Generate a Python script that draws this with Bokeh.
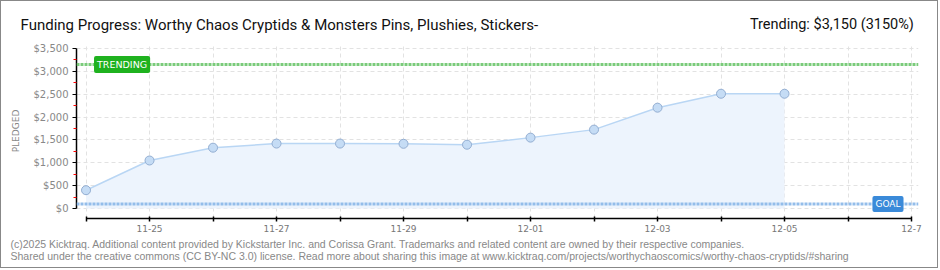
from bokeh.plotting import figure
from bokeh.models import Label, Range1d, FixedTicker, NumeralTickFormatter, Span
from bokeh.embed import file_html
from bokeh.resources import INLINE

days = ["11-24", "11-25", "11-26", "11-27", "11-28", "11-29", "11-30",
        "12-01", "12-02", "12-03", "12-04", "12-05"]
pledged = [400, 1050, 1330, 1420, 1420, 1415, 1395, 1550, 1725, 2205, 2510, 2510]
tick_days = ["11-24", "11-25", "11-26", "11-27", "11-28", "11-29", "11-30",
             "12-01", "12-02", "12-03", "12-04", "12-05", "12-06", "12-7"]
shown_tick_labels = ["11-25", "11-27", "11-29", "12-01", "12-03", "12-05", "12-7"]
y_ticks = [0, 500, 1000, 1500, 2000, 2500, 3000, 3500]
y_minor = [250, 750, 1250, 1750, 2250, 2750, 3250]
goal = 100
trending = 3150
title_text = "Funding Progress: Worthy Chaos Cryptids & Monsters Pins, Plushies, Stickers-"
trend_text = "Trending:  $3,150 (3150%)"
footer1 = "(c)2025 Kicktraq. Additional content provided by Kickstarter Inc. and Corissa Grant. Trademarks and related content are owned by their respective companies."
footer2 = "Shared under the creative commons (CC BY-NC 3.0) license. Read more about sharing this image at www.kicktraq.com/projects/worthychaoscomics/worthy-chaos-cryptids/#sharing"

x = list(range(len(days)))
tick_pos = list(range(len(tick_days)))
W = 938
EDGE = "1px solid #888888"


def blank(h, styles):
    f = figure(width=W, height=h, output_backend="svg", toolbar_location=None, title=None,
               x_range=Range1d(0, W), y_range=Range1d(0, h),
               x_axis_location=None, y_axis_location=None,
               min_border=0, min_border_left=0, min_border_right=0,
               min_border_top=0, min_border_bottom=0)
    f.grid.visible = False
    f.outline_line_color = None
    f.background_fill_color = "white"
    f.border_fill_color = "white"
    f.styles = styles
    return f


# header
head = blank(42, {"border-top": EDGE, "border-left": EDGE, "border-right": EDGE})
head.add_layout(Label(x=19, y=19, text=title_text,
                      text_font="Roboto", text_font_size="15px",
                      text_color="#111111", text_baseline="alphabetic"))
head.add_layout(Label(x=916, y=19, text=trend_text,
                      text_font="Roboto", text_font_size="14.5px",
                      text_color="#111111", text_align="right", text_baseline="alphabetic"))

# main chart
p = figure(width=W, height=196, output_backend="svg", toolbar_location=None, title=None,
           x_range=Range1d(-0.15, 13.11), y_range=Range1d(-219, 3609),
           min_border_left=75, min_border_right=21, min_border_top=1, min_border_bottom=20)
p.styles = {"border-left": EDGE, "border-right": EDGE}
p.outline_line_color = None
p.background_fill_color = "white"
p.border_fill_color = "white"

p.xgrid.ticker = FixedTicker(ticks=tick_pos)
p.ygrid.ticker = FixedTicker(ticks=y_ticks)
for g in (p.xgrid, p.ygrid):
    g.grid_line_color = "#e2e2e2"
    g.grid_line_dash = "4 3"
    g.grid_line_width = 1

p.varea(x=x, y1=[0] * len(x), y2=pledged, fill_color="#edf4fd")
p.line(x, pledged, line_color="#b9d6f4", line_width=1.5)
p.scatter(x, pledged, size=9, fill_color="#c5dcf5", line_color="#93aed2", line_width=1)

p.add_layout(Span(location=trending, dimension="width", line_color="#7acb7a",
                  line_dash="3 1", line_width=3))
p.add_layout(Span(location=goal, dimension="width", line_color="#93bdea",
                  line_dash="3 1", line_width=3))
p.add_layout(Label(x=0, y=trending, x_offset=8, text="TRENDING", text_color="white",
                   text_font="DejaVu Sans", text_font_size="9.5px", text_baseline="middle",
                   background_fill_color="#1fb21f", padding=3, border_radius=2))
p.add_layout(Label(x=13, y=goal, x_offset=-8, text="GOAL", text_color="white",
                   text_font="DejaVu Sans", text_font_size="9px", text_baseline="middle",
                   text_align="right",
                   background_fill_color="#3a8ad9", padding=3, border_radius=2))

xa = p.xaxis[0]
xa.ticker = FixedTicker(ticks=tick_pos)
xa.major_label_overrides = {i: (d if d in shown_tick_labels else "") for i, d in enumerate(tick_days)}
xa.bounds = (0, 13)
xa.axis_line_color = "black"
xa.axis_line_width = 1.5
xa.major_tick_line_color = "black"
xa.major_tick_line_width = 1.5
xa.major_tick_in = 2
xa.major_tick_out = 3
xa.minor_tick_line_color = None
xa.major_label_text_font = "DejaVu Sans"
xa.major_label_text_font_size = "9px"
xa.major_label_text_color = "#777777"
xa.major_label_standoff = 3

ya = p.yaxis[0]
ya.ticker = FixedTicker(ticks=y_ticks, minor_ticks=y_minor)
ya.formatter = NumeralTickFormatter(format="$0,0")
ya.bounds = (0, 3500)
ya.axis_line_color = "black"
ya.axis_line_width = 1.5
ya.major_tick_line_color = "black"
ya.major_tick_in = 0
ya.major_tick_out = 4
ya.minor_tick_line_color = "red"
ya.minor_tick_in = 0
ya.minor_tick_out = 3
ya.major_label_text_font = "DejaVu Sans"
ya.major_label_text_font_size = "10px"
ya.major_label_text_color = "#888888"
ya.major_label_standoff = 4
ya.axis_label = "PLEDGED"
ya.axis_label_text_font = "DejaVu Sans"
ya.axis_label_text_font_size = "9px"
ya.axis_label_text_font_style = "normal"
ya.axis_label_text_color = "#888888"
ya.axis_label_standoff = 10

# footer
foot = blank(30, {"border-bottom": EDGE, "border-left": EDGE, "border-right": EDGE})
foot.add_layout(Label(x=9, y=25, text=footer1, text_font="Liberation Sans",
                      text_font_size="10.5px", text_color="#888888", text_baseline="middle"))
foot.add_layout(Label(x=9, y=12.5, text=footer2, text_font="Liberation Sans",
                      text_font_size="10.5px", text_color="#888888", text_baseline="middle"))

open("out.html", "w").write(file_html([head, p, foot], INLINE))
